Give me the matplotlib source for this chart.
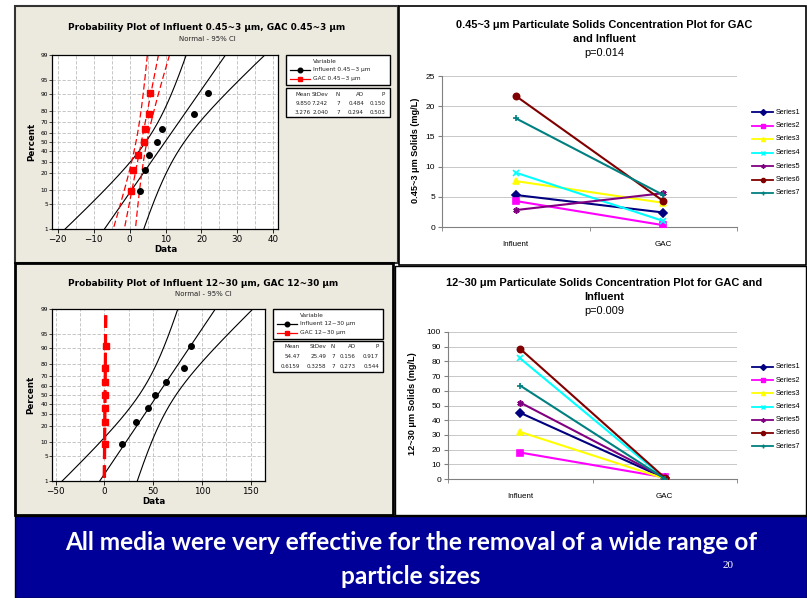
import matplotlib.pyplot as plt
from matplotlib.patches import Rectangle
from matplotlib.lines import Line2D
from statistics import NormalDist
import numpy as np

W, H = 807, 598

# --- values ---
categories = ['Influent', 'GAC']
series_names = ['Series1', 'Series2', 'Series3', 'Series4', 'Series5', 'Series6', 'Series7']
small_influent = [5.3, 4.3, 7.6, 9.0, 2.8, 21.7, 18.0]
small_gac = [2.4, 0.3, 4.0, 1.0, 5.6, 4.3, 5.3]
large_influent = [45.0, 18.0, 32.0, 82.0, 52.0, 88.5, 63.5]
large_gac = [0.6, 1.1, 0.3, 0.45, 0.75, 0.9, 0.2]

stats_head = ['Mean', 'StDev', 'N', 'AD', 'P']
small_stats = [['9.850', '7.242', '7', '0.484', '0.150'],
               ['3.276', '2.040', '7', '0.294', '0.503']]
large_stats = [['54.47', '25.49', '7', '0.156', '0.917'],
               ['0.6159', '0.3258', '7', '0.273', '0.544']]
pct_ticks = [1, 5, 10, 20, 30, 40, 50, 60, 70, 80, 90, 95, 99]

series_colors = ['#000080', '#FF00FF', '#FFFF00', '#00FFFF', '#800080', '#800000', '#008080']
series_markers = ['D', 's', '^', 'x', (6, 2, 0), 'o', '+']

BEIGE = '#ECE9DF'
BLUE = '#000099'
MINI = 'DejaVu Sans'
XL = 'Liberation Sans'

nd = NormalDist()
to_z = np.vectorize(lambda p: nd.inv_cdf(min(max(p / 100.0, 1e-6), 1 - 1e-6)), otypes=[float])
to_p = np.vectorize(lambda z: nd.cdf(z) * 100.0, otypes=[float])


def px(x0, y0, x1, y1):
    return [x0 / W, 1 - y1 / H, (x1 - x0) / W, (y1 - y0) / H]


def fx(x):
    return x / W


def fy(y):
    return 1 - y / H


fig = plt.figure(figsize=(W / 100, H / 100), dpi=100, facecolor='white')


def box(x0, y0, x1, y1, fc, ec='none', lw=0):
    fig.add_artist(Rectangle((fx(x0), fy(y1)), (x1 - x0) / W, (y1 - y0) / H,
                             transform=fig.transFigure, facecolor=fc,
                             edgecolor=ec, linewidth=lw, zorder=-5))


# panels
box(15, 6, 398, 263, BEIGE, '#333333', 1.5)
box(399, 6, 806, 265, 'white', 'black', 1.2)
box(15, 263, 393, 515, BEIGE, 'black', 2)
box(395, 266, 806, 515, 'white', 'black', 1.0)
box(15, 516, 807, 598, BLUE, 'black', 1.0)


def prob_plot(area, xlim, xticks, step, infl, gac, stats, gac_lw, title, tpos,
              names, leg, tab, cols, xlab, ylab):
    ax = fig.add_axes(px(*area))
    ax.set_facecolor('white')
    ax.set_yscale('function', functions=(to_z, to_p))
    ax.set_ylim(1, 99)
    ax.set_yticks(pct_ticks)
    ax.set_yticklabels([str(t) for t in pct_ticks])
    ax.yaxis.set_minor_locator(plt.NullLocator())
    ax.set_xlim(*xlim)
    ax.set_xticks(xticks)
    ax.set_xticks(np.arange(xticks[0], xticks[-1] + 0.1, step), minor=True)
    ax.grid(True, which='both', axis='x', color='#BDBDBD', ls=(0, (4, 2)), lw=0.6)
    ax.grid(True, which='major', axis='y', color='#BDBDBD', ls=(0, (4, 2)), lw=0.6)
    ax.tick_params(axis='x', which='major', labelsize=6.3, length=3, width=0.6, pad=1)
    ax.tick_params(axis='x', which='minor', length=0)
    ax.tick_params(axis='y', labelsize=4.2, length=2, width=0.5, pad=1)
    for s in ax.spines.values():
        s.set_linewidth(0.9)
    ax.set_axisbelow(True)

    zgrid = np.linspace(0.3, 99.7, 300)
    zz = to_z(zgrid)
    data = [(infl, float(stats[0][0]), float(stats[0][1]), 'black', 'o', '-', 0.8, 4.0),
            (gac, float(stats[1][0]), float(stats[1][1]), '#FF0000', 's', (0, (5, 2.5)), gac_lw, 4.0)]
    for vals, m, s, c, mk, ls, lw, ms in data:
        v = np.sort(vals)
        n = len(v)
        pos = (np.arange(1, n + 1) - 0.3) / (n + 0.4) * 100
        fit = m + s * zz
        half = 1.96 * s * np.sqrt(1.0 / n + zz ** 2 / (2.0 * (n - 1)))
        for line in (fit, fit - half, fit + half):
            ax.plot(line, zgrid, color=c, ls=ls, lw=lw)
        ax.plot(v, pos, ls='none', marker=mk, color=c, ms=ms, zorder=5)

    fig.text(fx(tpos[0]), fy(tpos[1]), title, family=MINI, weight='bold',
             fontsize=6.4, ha='center', va='center')
    fig.text(fx(tpos[0]), fy(tpos[1] + 11), 'Normal - 95% CI', family=MINI,
             fontsize=5.0, ha='center', va='center', color='#222222')
    fig.text(fx(xlab[0]), fy(xlab[1]), 'Data', family=MINI, weight='bold',
             fontsize=6.3, ha='center', va='center')
    fig.text(fx(ylab[0]), fy(ylab[1]), 'Percent', family=MINI, weight='bold',
             fontsize=6.3, ha='center', va='center', rotation=90)

    # legend box
    lx0, ly0, lx1, ly1 = leg
    box(lx0, ly0, lx1, ly1, 'white', 'black', 1.0)
    fig.text(fx(lx0 + 27), fy(ly0 + 6.5), 'Variable', family=MINI, fontsize=4.2,
             va='center', color='#222222')
    for k, (nm, c, mk) in enumerate(zip(names, ['black', '#FF0000'], ['o', 's'])):
        yy = ly0 + 15 + k * 8.5
        fig.add_artist(Line2D([fx(lx0 + 4), fx(lx0 + 14), fx(lx0 + 24)], [fy(yy)] * 3,
                              color=c, lw=0.9, marker=mk, ms=3.3, markevery=[1],
                              transform=fig.transFigure))
        fig.text(fx(lx0 + 27), fy(yy), nm, family=MINI, fontsize=4.2, va='center',
                 color='#222222')

    tx0, ty0, tx1, ty1 = tab
    box(tx0, ty0, tx1, ty1, 'white', 'black', 1.0)
    rows = [stats_head] + stats
    for r, row in enumerate(rows):
        yy = ty0 + 6 + r * 9.5
        for j, txt in enumerate(row):
            fig.text(fx(cols[j]), fy(yy), txt, family=MINI, fontsize=4.1,
                     ha='right', va='center', color='#222222')
    return ax


prob_plot((52, 55, 278, 229), (-21.6, 41.3), [-20, -10, 0, 10, 20, 30, 40], 5,
          small_influent, small_gac, small_stats, 0.9,
          'Probability Plot of Influent 0.45~3 μm, GAC 0.45~3 μm', (207, 28),
          ['Influent 0.45~3 μm', 'GAC 0.45~3 μm'],
          (286, 55, 390, 85), (286, 88, 390, 117), [311, 328, 340, 364, 385],
          (166, 249), (32, 142))

prob_plot((52, 309, 265, 481), (-53.8, 164.7), [-50, 0, 50, 100, 150], 25,
          large_influent, large_gac, large_stats, 1.8,
          'Probability Plot of Influent 12~30 μm, GAC 12~30 μm', (203, 283),
          ['Influent 12~30 μm', 'GAC 12~30 μm'],
          (273, 309, 383, 339), (273, 341, 383, 372), [300, 326, 335, 356, 379],
          (154, 501), (31, 395))


def pair_plot(area, infl, gac, ymax, ystep, title_lines, tcx, ty, ylabel, ylab, cat_y, leg_y):
    ax = fig.add_axes(px(*area))
    for i in range(len(series_names)):
        ax.plot(categories, [infl[i], gac[i]], color=series_colors[i],
                marker=series_markers[i], lw=1.5, ms=4.5, mew=1.2, zorder=3)
    ax.set_xlim(-0.5, 1.5)
    ax.set_ylim(0, ymax)
    ax.set_yticks(np.arange(0, ymax + 0.1, ystep))
    ax.grid(True, axis='y', color='#C8C8C8', lw=0.7)
    ax.set_axisbelow(True)
    for side in ('top', 'right'):
        ax.spines[side].set_visible(False)
    ax.spines['left'].set_color('#808080')
    ax.spines['bottom'].set_color('#808080')
    ax.spines['left'].set_linewidth(0.8)
    ax.spines['bottom'].set_linewidth(0.8)
    ax.set_xticks([-0.5, 0.5, 1.5], minor=True)
    ax.tick_params(axis='x', which='major', length=0, labelsize=5.8, pad=10)
    ax.tick_params(axis='x', which='minor', length=3, color='#808080', direction='out')
    ax.tick_params(axis='y', length=3, color='#808080', labelsize=6.0, pad=2)
    for lab in ax.get_xticklabels() + ax.get_yticklabels():
        lab.set_family(XL)
    ax.set_facecolor('none')

    for k, line in enumerate(title_lines):
        fig.text(fx(tcx), fy(ty[k]), line, family=XL, fontsize=7.9,
                 weight='bold' if k < len(title_lines) - 1 else 'normal',
                 ha='center', va='center')
    fig.text(fx(ylab[0]), fy(ylab[1]), ylabel, family=XL, weight='bold', fontsize=6.6,
             rotation=90, ha='center', va='center')

    for i, nm in enumerate(series_names):
        yy = leg_y[0] + i * leg_y[1]
        fig.add_artist(Line2D([fx(752), fx(762.5), fx(773)], [fy(yy)] * 3,
                              color=series_colors[i], lw=1.3, marker=series_markers[i],
                              ms=3.0, mew=1.0, markevery=[1], transform=fig.transFigure))
        fig.text(fx(776), fy(yy), nm, family=XL, fontsize=5.2, va='center')
    return ax


pair_plot((442, 76, 737, 227), small_influent, small_gac, 25, 5,
          ['0.45~3 μm Particulate Solids Concentration Plot for GAC', 'and Influent', 'p=0.014'],
          604, [25, 39, 53], '0.45~3 μm Solids (mg/L)', (415, 150), 243, (112, 13.5))

pair_plot((448, 332, 737, 479), large_influent, large_gac, 100, 10,
          ['12~30 μm Particulate Solids Concentration Plot for GAC and', 'Influent', 'p=0.009'],
          604, [283, 297, 311], '12~30 μm Solids (mg/L)', (413, 404), 496, (367, 13.2))

# banner text
fig.text(fx(411), fy(543), 'All media were very effective for the removal of a wide range of',
         family='Lato', weight='bold', fontsize=17.6, color='white', ha='center', va='center')
fig.text(fx(411), fy(576), 'particle sizes', family='Lato', weight='bold', fontsize=17.6,
         color='white', ha='center', va='center')
fig.text(fx(728), fy(566), '20', family='Liberation Serif', fontsize=8, color='white',
         ha='center', va='center')

fig.savefig('out.png', dpi=100, facecolor='white')
